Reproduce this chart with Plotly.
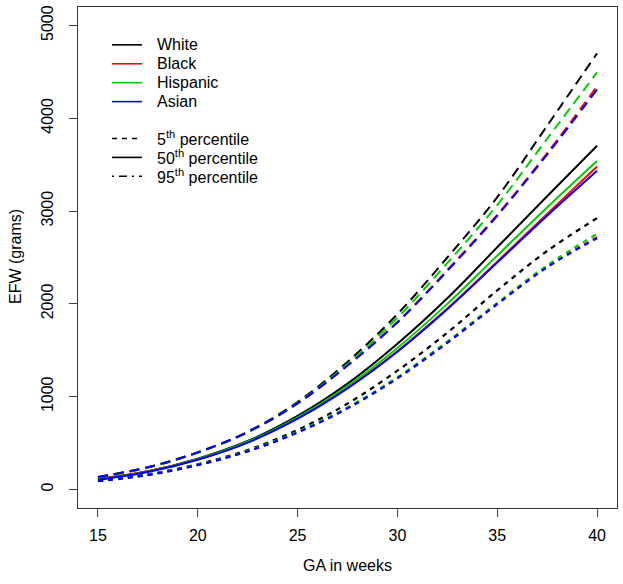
import plotly.graph_objects as go

weeks = [15, 17.5, 20, 22.5, 25, 27.5, 30, 32.5, 35, 37.5, 40]

# 95th (upper) percentile curves
white_hi = [135, 240, 400, 622, 942, 1375, 1890, 2500, 3150, 3920, 4700]
hisp_hi = [130, 236, 396, 616, 932, 1352, 1850, 2440, 3065, 3780, 4495]
black_hi = [130, 236, 397, 615, 926, 1335, 1805, 2365, 2960, 3625, 4345]
asian_hi = [135, 240, 400, 618, 928, 1335, 1800, 2355, 2950, 3610, 4310]

# 50th percentile curves
white_med = [110, 196, 332, 522, 792, 1140, 1570, 2060, 2610, 3160, 3705]
hisp_med = [108, 192, 326, 514, 778, 1115, 1525, 2000, 2520, 3040, 3540]
black_med = [112, 195, 325, 509, 767, 1095, 1490, 1950, 2455, 2970, 3480]
asian_med = [105, 188, 320, 505, 763, 1090, 1485, 1942, 2445, 2950, 3435]

# 5th (lower) percentile curves
white_lo = [92, 162, 272, 426, 642, 925, 1280, 1690, 2145, 2570, 2925]
hisp_lo = [90, 158, 266, 416, 622, 885, 1210, 1595, 2010, 2415, 2755]
black_lo = [92, 160, 265, 413, 617, 878, 1202, 1585, 2002, 2400, 2720]
asian_lo = [88, 155, 262, 410, 613, 874, 1198, 1580, 1997, 2395, 2708]

groups = ["White", "Black", "Hispanic", "Asian"]
colors = {"White": "#000000", "Black": "#ff0000", "Hispanic": "#00cc00", "Asian": "#0000ff"}
hi = {"White": white_hi, "Black": black_hi, "Hispanic": hisp_hi, "Asian": asian_hi}
med = {"White": white_med, "Black": black_med, "Hispanic": hisp_med, "Asian": asian_med}
lo = {"White": white_lo, "Black": black_lo, "Hispanic": hisp_lo, "Asian": asian_lo}

x_ticks = [15, 20, 25, 30, 35, 40]
y_ticks = [0, 1000, 2000, 3000, 4000, 5000]

fig = go.Figure()
for g in groups:
    c = colors[g]
    fig.add_trace(go.Scatter(x=weeks, y=hi[g], mode="lines",
                             line=dict(color=c, width=2, dash="10px,6px", shape="spline"),
                             showlegend=False, hoverinfo="skip"))
    fig.add_trace(go.Scatter(x=weeks, y=med[g], mode="lines",
                             line=dict(color=c, width=2, shape="spline"),
                             showlegend=False, hoverinfo="skip"))
    fig.add_trace(go.Scatter(x=weeks, y=lo[g], mode="lines",
                             line=dict(color=c, width=2.2, dash="5px,5px", shape="spline"),
                             showlegend=False, hoverinfo="skip"))

W, H = 623, 584
L, R, T, B = 78, 6, 5, 76
pw, ph = W - L - R, H - T - B

def px_to_paper(px, py):
    return (px - L) / pw, (H - B - py) / ph

font = "Liberation Sans, Arial, sans-serif"
FS = 16
shapes = []
annotations = []

legend_rows = [
    ("White", 43, colors["White"], "solid"),
    ("Black", 62, colors["Black"], "solid"),
    ("Hispanic", 81, colors["Hispanic"], "solid"),
    ("Asian", 100, colors["Asian"], "solid"),
    ("5<sup>th</sup> percentile", 137, "#000000", "5px,5px"),
    ("50<sup>th</sup> percentile", 156, "#000000", "solid"),
    ("95<sup>th</sup> percentile", 175, "#000000", "2px,5px,8px,5px"),
]
for label, py, c, d in legend_rows:
    x0, y0 = px_to_paper(112, py)
    x1, _ = px_to_paper(142, py)
    shapes.append(dict(type="line", xref="paper", yref="paper", x0=x0, x1=x1, y0=y0, y1=y0,
                       line=dict(color=c, width=1.6, dash=d)))
    tx, ty = px_to_paper(155, py)
    annotations.append(dict(text=label, xref="paper", yref="paper", x=tx, y=ty,
                            xanchor="left", yanchor="middle", showarrow=False,
                            font=dict(family=font, size=FS, color="#000")))

# axis titles
tx, ty = px_to_paper(347, 566)
annotations.append(dict(text="GA in weeks", xref="paper", yref="paper", x=tx, y=ty,
                        xanchor="center", yanchor="middle", showarrow=False,
                        font=dict(family=font, size=FS, color="#000")))
tx, ty = px_to_paper(15, 256)
annotations.append(dict(text="EFW (grams)", xref="paper", yref="paper", x=tx, y=ty,
                        xanchor="center", yanchor="middle", showarrow=False, textangle=-90,
                        font=dict(family=font, size=FS, color="#000")))

fig.update_layout(
    width=W, height=H,
    margin=dict(l=L, r=R, t=T, b=B),
    paper_bgcolor="white", plot_bgcolor="white",
    shapes=shapes, annotations=annotations,
    showlegend=False,
    font=dict(family=font, size=FS, color="#000"),
)
fig.update_xaxes(range=[14, 41], tickvals=x_ticks, ticks="outside", ticklen=8, tickcolor="#444",
                 showgrid=False, zeroline=False, showline=True, linecolor="#333", linewidth=1,
                 mirror=True, ticklabelstandoff=5, tickfont=dict(size=FS))
fig.update_yaxes(range=[-200, 5200], tickvals=y_ticks, ticks="outside", ticklen=8, tickcolor="#444",
                 showgrid=False, zeroline=False, showline=True, linecolor="#333", linewidth=1,
                 mirror=True, tickangle=-90, ticklabelstandoff=10, tickfont=dict(size=FS))

fig.write_html("out.html", config={"displayModeBar": False},
               post_script="document.body.style.margin='0';")
